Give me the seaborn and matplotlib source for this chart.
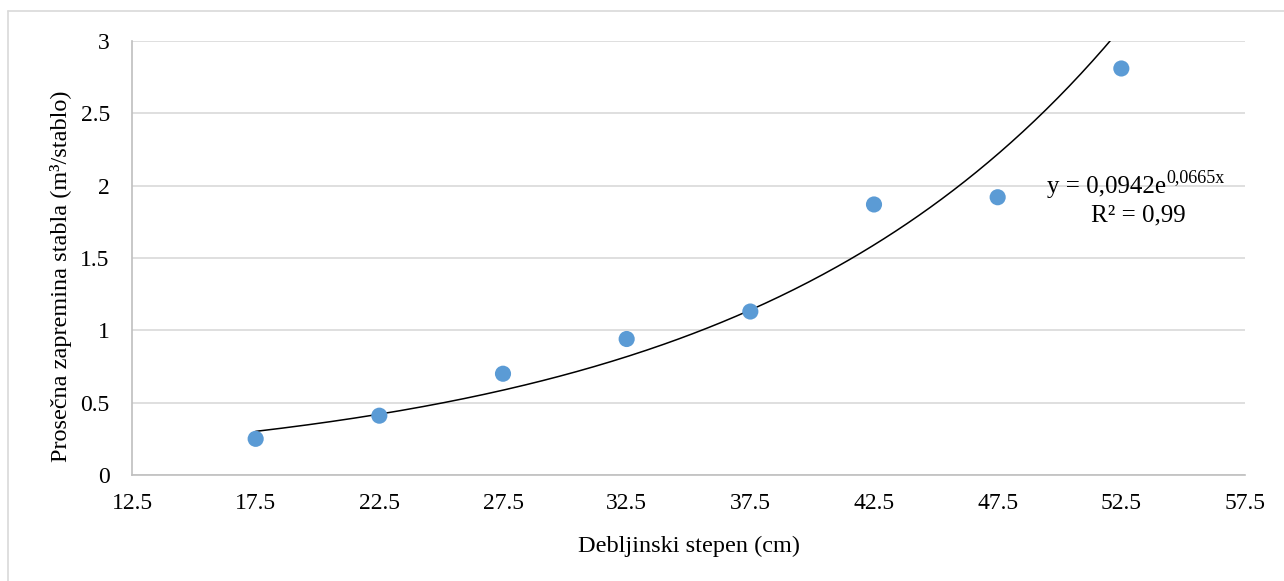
import numpy as np
import pandas as pd
import matplotlib.pyplot as plt
import seaborn as sns
from matplotlib.lines import Line2D

# podaci
debljinski_stepen = [17.5, 22.5, 27.5, 32.5, 37.5, 42.5, 47.5, 52.5]
zapremina = [0.25, 0.41, 0.70, 0.94, 1.13, 1.87, 1.92, 2.81]
x_ticks = [12.5, 17.5, 22.5, 27.5, 32.5, 37.5, 42.5, 47.5, 52.5, 57.5]
y_ticks = [0, 0.5, 1, 1.5, 2, 2.5, 3]
y_tick_labels = ['0', '0.5', '1', '1.5', '2', '2.5', '3']
# eksponencijalni trend (Excel)
koef_a = 0.0942
koef_b = 0.0665

data = pd.DataFrame({'x': debljinski_stepen, 'y': zapremina})

sns.set_style('white')
plt.rcParams['font.family'] = ['Liberation Serif', 'DejaVu Serif']
plt.rcParams['text.color'] = 'black'
plt.rcParams['axes.labelcolor'] = 'black'

fig = plt.figure(figsize=(12.84, 5.81), dpi=100)
ax = fig.add_axes([132 / 1284, 1 - 475 / 581, (1245 - 132) / 1284, (475 - 41) / 581])

# linija trenda
xt = np.linspace(min(debljinski_stepen), max(debljinski_stepen), 300)
sns.lineplot(x=xt, y=koef_a * np.exp(koef_b * xt), ax=ax, color='black', linewidth=1.1, zorder=2)

sns.scatterplot(data=data, x='x', y='y', ax=ax, color='#5B9BD5', s=135,
                edgecolor='none', zorder=3)

ax.set_xlim(12.5, 57.5)
ax.set_ylim(0, 3)
ax.set_xticks(x_ticks)
ax.set_xticklabels([str(v) for v in x_ticks])
ax.set_yticks(y_ticks)
ax.set_yticklabels(y_tick_labels)
ax.tick_params(axis='both', length=0, labelsize=17, colors='black')
ax.tick_params(axis='x', pad=13)
ax.tick_params(axis='y', pad=16)
ax.yaxis.grid(True, color='#D9D9D9', linewidth=1.2)
ax.xaxis.grid(False)
for s in ['top', 'right']:
    ax.spines[s].set_visible(False)
for s in ['left', 'bottom']:
    ax.spines[s].set_color('#BFBFBF')
    ax.spines[s].set_linewidth(1.2)

ax.set_xlabel('Debljinski stepen (cm)', fontsize=17.5, labelpad=16)
ax.set_ylabel('Prosečna zapremina stabla (m³/stablo)', fontsize=17.5)
ax.yaxis.set_label_coords(-0.054, 0.458)

# jednacina
fig.canvas.draw()
t1 = fig.text(1047 / 1284, 1 - 193 / 581, 'y = 0,0942e', fontsize=18, ha='left', va='baseline')
fig.canvas.draw()
bb = t1.get_window_extent()
fig.text(bb.x1 / 1284, 1 - 182 / 581, '0,0665x', fontsize=13, ha='left', va='baseline')
fig.text(1138 / 1284, 1 - 221 / 581, 'R² = 0,99', fontsize=18, ha='center', va='baseline')

# okvir grafikona
fig.add_artist(Line2D([8 / 1284, 8 / 1284], [0, 1 - 11 / 581], transform=fig.transFigure,
                      color='#D9D9D9', linewidth=1.2))
fig.add_artist(Line2D([8 / 1284, 1], [1 - 11 / 581, 1 - 11 / 581], transform=fig.transFigure,
                      color='#D9D9D9', linewidth=1.2))

plt.savefig('out.png', dpi=100)
plt.close()
